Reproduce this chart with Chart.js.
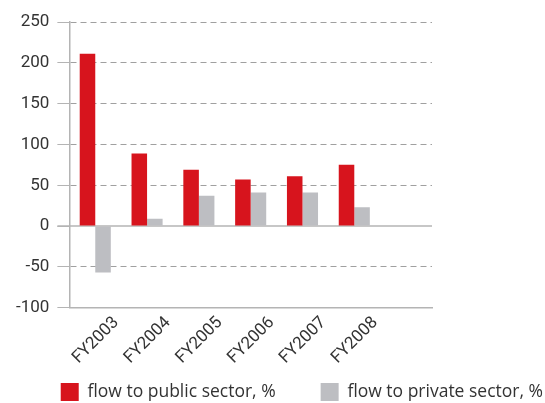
<!DOCTYPE html>
<html>
<head>
<meta charset="utf-8">
<script src="https://cdn.jsdelivr.net/npm/chart.js@4.4.1/dist/chart.umd.min.js"></script>
<style>
    body{margin:0;overflow:hidden;background:#fff;}
    #wrap{width:545px;height:411px;position:relative;}
</style>
</head>
<body>
<div id="wrap"><canvas id="chart"></canvas></div>
<script>
const years = ['FY2003','FY2004','FY2005','FY2006','FY2007','FY2008'];
const publicFlow = [211, 89, 69, 57, 61, 75];
const privateFlow = [-57, 9, 37, 41, 41, 23];
const yTicks = [-100, -50, 0, 50, 100, 150, 200, 250];

// one empty slot on the right keeps the grid running past the last year
const labels = years.concat(['']);

// solid line at zero, under the bars
const zeroLine = {
    id: 'zeroLine',
    beforeDatasetsDraw(chart){
        const ctx = chart.ctx;
        const y = chart.scales.y.getPixelForValue(0);
        ctx.save();
        ctx.strokeStyle = '#b4b4b4';
        ctx.lineWidth = 1.5;
        ctx.beginPath();
        ctx.moveTo(chart.chartArea.left - 12, y);
        ctx.lineTo(chart.chartArea.right, y);
        ctx.stroke();
        ctx.restore();
    }
};

function setData_flow(){
    const ctx = document.getElementById('chart');
    new Chart(
        ctx,
        {
            type: 'bar',
            plugins: [zeroLine],
            options: {
                maintainAspectRatio:false,
                animation:false,
                layout: {
                    padding: {top: 22, left: 8, right: -8, bottom: 0}
                },
                plugins: {
                    legend: {
                        position: 'bottom',
                        align: 'end',
                        labels: {
                            boxWidth: 18,
                            boxHeight: 18,
                            padding: 10,
                            color: '#333',
                            font: {family: 'Open Sans', size: 17.5},
                            generateLabels: chart => {
                                const items = Chart.defaults.plugins.legend.labels.generateLabels(chart);
                                // wider gap after the first entry
                                items[0].text += '\u2003\u2003';
                                return items;
                            }
                        }
                    },
                    tooltip: {
                        enabled: false
                    }
                },
                scales: {
                    x: {
                        grid: {display: false, drawTicks: false},
                        border: {color: '#b4b4b4', width: 1.5},
                        ticks: {
                            minRotation: 45,
                            maxRotation: 45,
                            labelOffset: 21,
                            padding: 5,
                            color: '#333',
                            font: {family: 'Roboto', size: 17}
                        }
                    },
                    y: {
                        min: -100,
                        max: 250,
                        afterBuildTicks: axis => {
                            axis.ticks = yTicks.map(v => ({value: v}));
                        },
                        grid: {
                            color: ctx => (ctx.tick && (ctx.tick.value === 0 || ctx.tick.value === -100)) ? 'rgba(0,0,0,0)' : '#a0a0a0',
                            tickColor: '#b4b4b4',
                            tickLength: 12,
                            tickBorderDash: [],
                            lineWidth: 1
                        },
                        border: {color: '#b4b4b4', width: 1.5, dash: [6, 4]},
                        ticks: {
                            padding: 8,
                            color: '#333',
                            font: {family: 'Roboto', size: 17}
                        }
                    },
                    // empty strip on the right of the plot
                    side: {
                        position: 'right',
                        min: -100,
                        max: 250,
                        grid: {display: false},
                        border: {display: false},
                        ticks: {display: false},
                        afterFit: axis => { axis.width = 121; }
                    }
                }
            },
            data: {
                labels: labels,
                datasets: [
                    {
                        label: 'flow to public sector, %',
                        data: publicFlow,
                        backgroundColor: '#d7141d',
                        categoryPercentage: 0.6,
                        barPercentage: 1
                    },
                    {
                        label: 'flow to private sector, %',
                        data: privateFlow,
                        backgroundColor: '#bdbec2',
                        categoryPercentage: 0.6,
                        barPercentage: 1
                    }
                ]
            }
        }
    );
}

setData_flow();
</script>
</body>
</html>
